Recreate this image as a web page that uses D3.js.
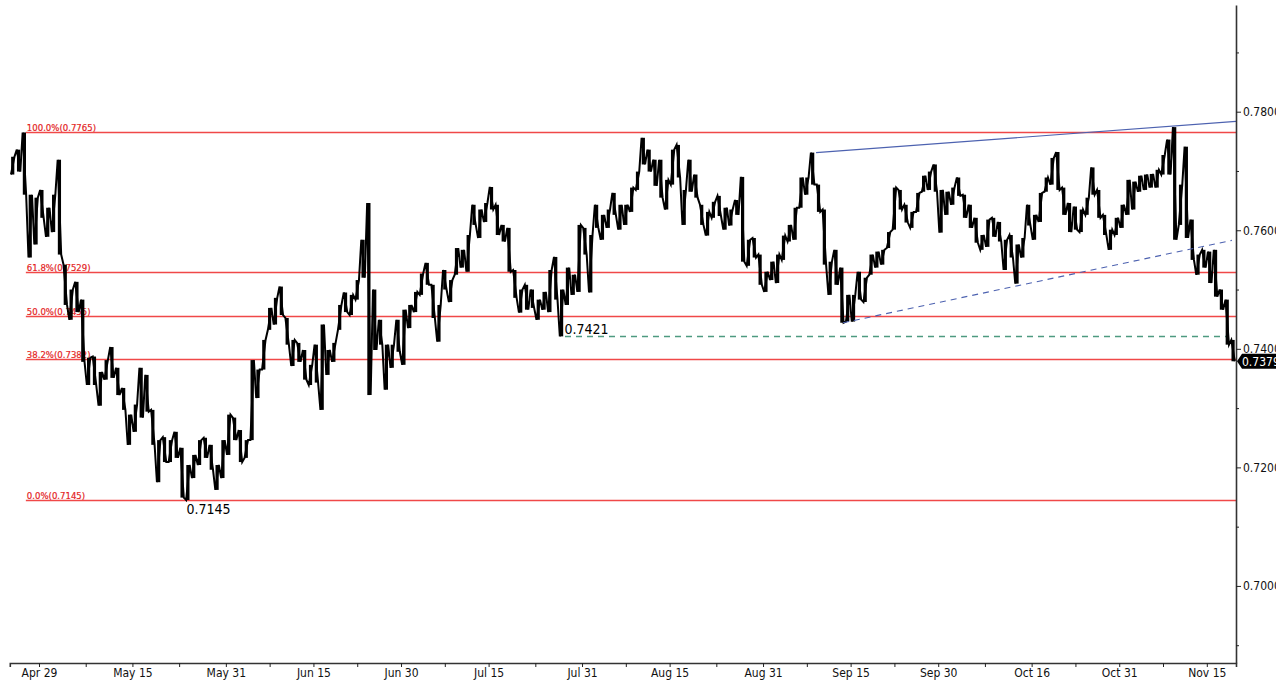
<!DOCTYPE html>
<html>
<head>
<meta charset="utf-8">
<script src="https://cdn.jsdelivr.net/npm/d3@7"></script>
<style>
  body { margin: 0; background: #fff; }
  svg { display: block; }
</style>
</head>
<body>
<div id="chart"></div>
<script>
// Daily range of the price, one entry per calendar day from Apr 24
const firstDay = '2022-04-24';
const dayHigh = [
  0.7724, 0.7736, 0.7765, 0.7660, 0.7655, 0.7668, 0.7638, 0.7660, 0.7719, 0.7542,
  0.7500, 0.7513, 0.7483, 0.7385, 0.7387, 0.7361, 0.7381, 0.7403, 0.7368, 0.7334,
  0.7289, 0.7306, 0.7368, 0.7356, 0.7297, 0.7246, 0.7251, 0.7246, 0.7260, 0.7233,
  0.7204, 0.7221, 0.7246, 0.7250, 0.7238, 0.7204, 0.7246, 0.7289, 0.7284, 0.7263,
  0.7246, 0.7381, 0.7365, 0.7415, 0.7469, 0.7486, 0.7505, 0.7452, 0.7415, 0.7410,
  0.7398, 0.7373, 0.7407, 0.7441, 0.7398, 0.7410, 0.7474, 0.7495, 0.7491, 0.7516,
  0.7584, 0.7646, 0.7500, 0.7449, 0.7407, 0.7407, 0.7449, 0.7466, 0.7474, 0.7496,
  0.7527, 0.7545, 0.7508, 0.7474, 0.7533, 0.7516, 0.7570, 0.7567, 0.7592, 0.7643,
  0.7635, 0.7646, 0.7673, 0.7643, 0.7609, 0.7604, 0.7533, 0.7500, 0.7508, 0.7500,
  0.7483, 0.7496, 0.7533, 0.7555, 0.7500, 0.7537, 0.7525, 0.7609, 0.7604, 0.7592,
  0.7643, 0.7626, 0.7635, 0.7663, 0.7643, 0.7643, 0.7672, 0.7699, 0.7756, 0.7736,
  0.7719, 0.7719, 0.7685, 0.7736, 0.7744, 0.7668, 0.7719, 0.7694, 0.7643, 0.7631,
  0.7648, 0.7658, 0.7638, 0.7635, 0.7651, 0.7690, 0.7584, 0.7587, 0.7559, 0.7530,
  0.7547, 0.7559, 0.7591, 0.7609, 0.7638, 0.7689, 0.7689, 0.7731, 0.7677, 0.7635,
  0.7547, 0.7567, 0.7537, 0.7491, 0.7491, 0.7530, 0.7520, 0.7559, 0.7564, 0.7567,
  0.7597, 0.7672, 0.7668, 0.7643, 0.7631, 0.7663, 0.7692, 0.7699, 0.7711, 0.7668,
  0.7665, 0.7672, 0.7689, 0.7660, 0.7643, 0.7621, 0.7592, 0.7618, 0.7621, 0.7614,
  0.7584, 0.7592, 0.7576, 0.7587, 0.7643, 0.7626, 0.7663, 0.7689, 0.7722, 0.7732,
  0.7672, 0.7646, 0.7640, 0.7635, 0.7655, 0.7706, 0.7668, 0.7626, 0.7601, 0.7621,
  0.7643, 0.7685, 0.7682, 0.7692, 0.7694, 0.7695, 0.7702, 0.7727, 0.7753, 0.7774,
  0.7677, 0.7741, 0.7618, 0.7559, 0.7567, 0.7564, 0.7567, 0.7500, 0.7483, 0.7415
];
const dayLow = [
  0.7694, 0.7699, 0.7660, 0.7554, 0.7576, 0.7621, 0.7589, 0.7597, 0.7559, 0.7474,
  0.7449, 0.7462, 0.7378, 0.7339, 0.7339, 0.7304, 0.7348, 0.7351, 0.7322, 0.7297,
  0.7238, 0.7260, 0.7284, 0.7294, 0.7238, 0.7175, 0.7209, 0.7209, 0.7216, 0.7149,
  0.7145, 0.7182, 0.7204, 0.7216, 0.7196, 0.7162, 0.7182, 0.7221, 0.7246, 0.7209,
  0.7216, 0.7246, 0.7317, 0.7365, 0.7432, 0.7441, 0.7457, 0.7407, 0.7371, 0.7378,
  0.7348, 0.7339, 0.7343, 0.7297, 0.7356, 0.7378, 0.7432, 0.7462, 0.7457, 0.7483,
  0.7520, 0.7322, 0.7398, 0.7407, 0.7331, 0.7368, 0.7395, 0.7373, 0.7435, 0.7462,
  0.7491, 0.7508, 0.7452, 0.7412, 0.7500, 0.7479, 0.7525, 0.7537, 0.7530, 0.7609,
  0.7587, 0.7614, 0.7635, 0.7592, 0.7581, 0.7530, 0.7486, 0.7461, 0.7466, 0.7469,
  0.7449, 0.7466, 0.7462, 0.7483, 0.7421, 0.7474, 0.7491, 0.7496, 0.7559, 0.7495,
  0.7604, 0.7584, 0.7604, 0.7626, 0.7601, 0.7609, 0.7631, 0.7668, 0.7711, 0.7699,
  0.7675, 0.7655, 0.7635, 0.7677, 0.7689, 0.7609, 0.7665, 0.7655, 0.7609, 0.7591,
  0.7621, 0.7624, 0.7601, 0.7608, 0.7626, 0.7547, 0.7540, 0.7554, 0.7508, 0.7496,
  0.7516, 0.7511, 0.7550, 0.7581, 0.7584, 0.7638, 0.7660, 0.7677, 0.7631, 0.7542,
  0.7491, 0.7508, 0.7444, 0.7446, 0.7446, 0.7483, 0.7479, 0.7525, 0.7537, 0.7542,
  0.7570, 0.7601, 0.7635, 0.7613, 0.7604, 0.7631, 0.7665, 0.7668, 0.7665, 0.7596,
  0.7626, 0.7643, 0.7658, 0.7621, 0.7604, 0.7579, 0.7567, 0.7572, 0.7589, 0.7581,
  0.7533, 0.7554, 0.7510, 0.7554, 0.7608, 0.7584, 0.7614, 0.7665, 0.7677, 0.7668,
  0.7626, 0.7597, 0.7601, 0.7597, 0.7626, 0.7660, 0.7621, 0.7592, 0.7567, 0.7592,
  0.7604, 0.7626, 0.7635, 0.7665, 0.7668, 0.7672, 0.7672, 0.7694, 0.7694, 0.7584,
  0.7609, 0.7587, 0.7550, 0.7525, 0.7537, 0.7511, 0.7488, 0.7466, 0.7407, 0.7379
];
const lastPrice = 0.7379;

// Axes
const xTickDates = ['2022-04-29', '2022-05-15', '2022-05-31', '2022-06-15', '2022-06-30',
  '2022-07-15', '2022-07-31', '2022-08-15', '2022-08-31', '2022-09-15', '2022-09-30',
  '2022-10-16', '2022-10-31', '2022-11-15'];
const yMajorTicks = [0.70, 0.72, 0.74, 0.76, 0.78];
const yMinorTicks = [0.69, 0.71, 0.73, 0.75, 0.77, 0.79];

// Fibonacci retracement levels
const fibPct = ['100.0%', '61.8%', '50.0%', '38.2%', '0.0%'];
const fibValues = [0.7765, 0.7529, 0.7455, 0.7382, 0.7145];
const fibFrom = '2022-04-26T18:00Z';

// Trend lines and marked levels
const upperTrend = [['2022-09-09T02:00Z', 0.7731], ['2022-11-09T13:30Z', 0.7776]];
const lowerTrend = [['2022-09-13T17:00Z', 0.7444], ['2022-11-19T07:00Z', 0.7583]];
const supportLine = [['2022-07-28T02:00Z', 0.7421], ['2022-11-18T19:00Z', 0.7421]];
const lowLabel = ['2022-05-24T06:00Z', 0.7145];
const supportLabel = ['2022-07-28T00:00Z', 0.7421];

const W = 1276, H = 681;
const DAY = 864e5;
const t0 = new Date(firstDay + 'T00:00Z');
const t1 = new Date(t0.getTime() + dayHigh.length * DAY);

const svg = d3.select('#chart').append('svg')
  .attr('width', W).attr('height', H);

const x = d3.scaleUtc().domain([t0, t1]).range([9.8, 1236]);
const y = d3.scaleLinear().domain([0.687, 0.798]).range([663, 5]);
const parse = s => new Date(s.length === 10 ? s + 'T00:00Z' : s);

// Fibonacci lines
const fib = svg.append('g');
fibValues.forEach((v, i) => {
  const yy = Math.round(y(v)) + 0.5;
  fib.append('line')
    .attr('x1', x(parse(fibFrom))).attr('x2', x(t1))
    .attr('y1', yy).attr('y2', yy)
    .attr('stroke', '#f04848').attr('stroke-width', 1.3);
  fib.append('text')
    .attr('x', x(parse(fibFrom)) + 1).attr('y', yy - 1.5)
    .attr('fill', '#e41e24')
    .attr('font-family', 'Liberation Sans Narrow, DejaVu Sans Condensed, sans-serif')
    .attr('font-size', '9.5px')
    .attr('stroke', '#e41e24').attr('stroke-width', 0.2)
    .text(`${fibPct[i]}(${v.toFixed(4)})`);
});

// Support level (dashed green)
svg.append('path')
  .datum(supportLine)
  .attr('fill', 'none')
  .attr('stroke', '#4e9a80')
  .attr('stroke-width', 1.4)
  .attr('stroke-dasharray', '6,5')
  .attr('d', d3.line().x(d => x(parse(d[0]))).y(d => Math.round(y(d[1])) + 0.5));

// Price: daily range bars plus a zigzag through each day's range
const pts = [];
dayHigh.forEach((hi, i) => {
  const lo = dayLow[i];
  const mid = (hi + lo) / 2;
  const next = i < dayHigh.length - 1 ? (dayHigh[i + 1] + dayLow[i + 1]) / 2 : -1;
  const goingDown = next < mid;
  const a = t0.getTime() + i * DAY;
  pts.push([a + 0.2 * DAY, goingDown ? hi : lo]);
  pts.push([a + 0.5 * DAY, mid]);
  pts.push([a + 0.8 * DAY, goingDown ? lo : hi]);
});
svg.append('g')
  .selectAll('line')
  .data(dayHigh)
  .join('line')
  .attr('x1', (d, i) => x(new Date(t0.getTime() + (i + 0.5) * DAY)))
  .attr('x2', (d, i) => x(new Date(t0.getTime() + (i + 0.5) * DAY)))
  .attr('y1', d => y(d))
  .attr('y2', (d, i) => y(dayLow[i]))
  .attr('stroke', '#000')
  .attr('stroke-width', 3.2);
const priceLine = d3.line().x(d => x(new Date(d[0]))).y(d => y(d[1]));
svg.append('path')
  .datum(pts)
  .attr('fill', 'none')
  .attr('stroke', '#000')
  .attr('stroke-width', 2)
  .attr('d', priceLine);

// Trend lines (blue)
const lineFn = d3.line().x(d => x(d[0])).y(d => y(d[1]));
const up0 = parse(upperTrend[0][0]), up1 = parse(upperTrend[1][0]);
const slope = (upperTrend[1][1] - upperTrend[0][1]) / (up1 - up0);
svg.append('path')
  .datum([[up0, upperTrend[0][1]], [t1, upperTrend[0][1] + slope * (t1 - up0)]])
  .attr('fill', 'none').attr('stroke', '#4d62b0').attr('stroke-width', 1.1)
  .attr('d', lineFn);
svg.append('path')
  .datum(lowerTrend.map(d => [parse(d[0]), d[1]]))
  .attr('fill', 'none').attr('stroke', '#4d62b0').attr('stroke-width', 1.1)
  .attr('stroke-dasharray', '6,5')
  .attr('d', lineFn);

// Level labels
const labelFont = 'DejaVu Sans Condensed, sans-serif';
svg.append('text')
  .attr('x', x(parse(lowLabel[0]))).attr('y', y(lowLabel[1]) + 14)
  .attr('font-family', labelFont).attr('font-size', '14px').attr('fill', '#000')
  .text(lowLabel[1].toFixed(4));
svg.append('text')
  .attr('x', x(parse(supportLabel[0]))).attr('y', y(supportLabel[1]) - 2)
  .attr('font-family', labelFont).attr('font-size', '14px').attr('fill', '#000')
  .text(supportLabel[1].toFixed(4));

// X axis
const majors = xTickDates.map(parse);
const minors = majors.slice(1).map((d, i) => new Date((d.getTime() + majors[i].getTime()) / 2));
svg.append('g')
  .attr('transform', 'translate(0,663)')
  .call(d3.axisBottom(x).tickValues(majors).tickFormat(d3.utcFormat('%b %d'))
    .tickSize(4).tickSizeOuter(4).tickPadding(1));
svg.append('g')
  .attr('transform', 'translate(0,663)')
  .call(d3.axisBottom(x).tickValues(minors).tickFormat('').tickSize(4).tickSizeOuter(0))
  .select('.domain').remove();

// Y axis
svg.append('g')
  .attr('transform', 'translate(1236,0)')
  .call(d3.axisRight(y).tickValues(yMajorTicks).tickFormat(d3.format('.4f'))
    .tickSize(5).tickSizeOuter(0).tickPadding(2));
svg.append('g')
  .attr('transform', 'translate(1236,0)')
  .call(d3.axisRight(y).tickValues(yMinorTicks).tickFormat('').tickSize(3).tickSizeOuter(0))
  .select('.domain').remove();

svg.selectAll('.tick text')
  .attr('font-family', labelFont)
  .attr('font-size', '12px')
  .attr('fill', '#111');
svg.selectAll('.tick line').attr('stroke', '#222');
svg.selectAll('.domain').attr('stroke', '#333').attr('stroke-width', 1.6);

// Last price tag
const yc = y(lastPrice);
svg.append('path')
  .attr('d', `M1237,${yc} L1242,${yc - 7.5} L1276,${yc - 7.5} L1276,${yc + 7.5} L1242,${yc + 7.5} Z`)
  .attr('fill', '#000');
svg.append('text')
  .attr('x', 1242).attr('y', yc + 4.5)
  .attr('font-family', labelFont).attr('font-size', '12px')
  .attr('fill', '#fff')
  .text(lastPrice.toFixed(4));
</script>
</body>
</html>
